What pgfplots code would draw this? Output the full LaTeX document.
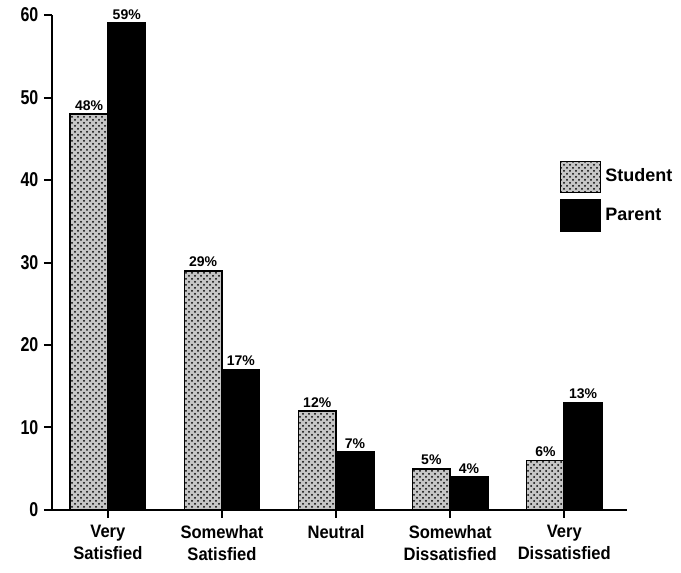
\documentclass[border=0pt]{standalone}
\usepackage{pgfplots}
\pgfplotsset{compat=1.18}
\usepackage{fontspec}
\setmainfont{Liberation Sans}
\usetikzlibrary{patterns}
\begin{document}
\begin{tikzpicture}
\begin{axis}[
  scale only axis, width=287.5pt, height=247.5pt,
  xmin=-0.49, xmax=4.55, ymin=0, ymax=60,
  axis x line*=bottom, axis y line*=left,
  axis line style={line width=1pt},
  ytick={0,10,...,60},
  xtick={0,1,2,3,4},
  xticklabels={Very\\Satisfied, Somewhat\\Satisfied, Neutral, Somewhat\\Dissatisfied, Very\\Dissatisfied},
  xticklabel style={align=center, font=\small\bfseries, text depth=0pt, xscale=0.92},
  yticklabel style={font=\normalsize\bfseries, xscale=0.8},
  /pgf/number format/assume math mode=true,
  tick align=outside, tick style={line width=1pt, black}, major tick length=4pt,
  ybar=0pt, bar width=0.33,
  legend image code/.code={\draw[#1] (0pt,-7.75pt) rectangle (20pt,7.75pt);},
  nodes near coords={\pgfmathprintnumber{\pgfplotspointmeta}\%},
  every node near coord/.append style={font=\scriptsize\bfseries, inner sep=1.5pt},
  legend style={draw=none, fill=none, inner sep=0pt, outer sep=0pt, at={(0.883,0.706)}, anchor=north west, font=\small\bfseries, row sep=3pt, legend cell align=left},
]
\addplot[draw=black, fill=gray!45, postaction={pattern=crosshatch dots}, line width=0.8pt]
  coordinates {(0,48) (1,29) (2,12) (3,5) (4,6)};
\addplot[draw=black, fill=black, line width=0.8pt]
  coordinates {(0,59) (1,17) (2,7) (3,4) (4,13)};
\legend{Student, Parent}
\end{axis}
\pgfresetboundingbox
\path (current axis.south west) ++(-26pt,-31.5pt) coordinate (bbA);
\path (current axis.south west) ++(314.5pt,255pt) coordinate (bbB);
\useasboundingbox (bbA) rectangle (bbB);
\end{tikzpicture}
\end{document}
